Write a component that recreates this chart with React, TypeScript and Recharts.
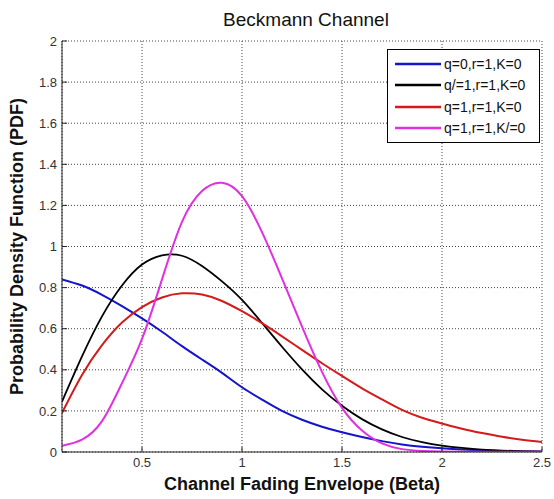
import React from 'react';
import { LineChart, Line, XAxis, YAxis, CartesianGrid, Legend, Label } from 'recharts';

const betaValues = [0.1, 0.2, 0.3, 0.4, 0.5, 0.6, 0.7, 0.8, 0.9, 1.0, 1.1, 1.2, 1.3, 1.4, 1.5, 1.6, 1.7, 1.8, 1.9, 2.0, 2.1, 2.2, 2.3, 2.4, 2.5];
const pdfQ0 = [0.84, 0.81, 0.765, 0.71, 0.65, 0.585, 0.515, 0.45, 0.385, 0.315, 0.255, 0.2, 0.157, 0.123, 0.096, 0.073, 0.053, 0.037, 0.026, 0.018, 0.012, 0.008, 0.005, 0.003, 0.002];
const pdfQne1 = [0.245, 0.465, 0.66, 0.81, 0.912, 0.957, 0.955, 0.905, 0.83, 0.74, 0.628, 0.512, 0.402, 0.305, 0.225, 0.16, 0.11, 0.073, 0.048, 0.031, 0.02, 0.012, 0.007, 0.004, 0.002];
const pdfQ1 = [0.19, 0.375, 0.52, 0.63, 0.705, 0.752, 0.772, 0.766, 0.735, 0.685, 0.627, 0.563, 0.497, 0.432, 0.37, 0.31, 0.256, 0.205, 0.167, 0.139, 0.113, 0.092, 0.074, 0.06, 0.049];
const pdfKne0 = [0.03, 0.06, 0.15, 0.335, 0.55, 0.84, 1.12, 1.27, 1.31, 1.245, 1.07, 0.845, 0.61, 0.39, 0.215, 0.105, 0.042, 0.014, 0.005, 0.002, 0.001, 0.001, 0.001, 0.001, 0.001];

const seriesNames = ['q=0,r=1,K=0', 'q/=1,r=1,K=0', 'q=1,r=1,K=0', 'q=1,r=1,K/=0'];
const xTicks = [0.5, 1, 1.5, 2, 2.5];
const yTicks = [0, 0.2, 0.4, 0.6, 0.8, 1, 1.2, 1.4, 1.6, 1.8, 2];

const titleText = 'Beckmann Channel';
const xLabelText = 'Channel Fading Envelope (Beta)';
const yLabelText = 'Probability Density Function (PDF)';

const data = betaValues.map((b, i) => ({
  beta: b,
  s0: pdfQ0[i],
  s1: pdfQne1[i],
  s2: pdfQ1[i],
  s3: pdfKne0[i],
}));

const FONT = '"Liberation Sans", Arial, Helvetica, sans-serif';
const COLORS = ['#1414c8', '#000000', '#d41a1a', '#e030e0'];
const AXIS_COLOR = '#222';

const fmtY = (v: number) => String(Number(v.toFixed(1)));
const blank = () => '';

const LegendBox = (props: any) => {
  const payload = [...(props.payload || [])].sort(
    (a: any, b: any) => seriesNames.indexOf(a.value) - seriesNames.indexOf(b.value)
  );
  return (
    <div
      style={{
        border: '1px solid #000',
        background: '#fff',
        boxSizing: 'border-box',
        width: 153,
        padding: '3px 4px 3px 7px',
        fontFamily: FONT,
        fontSize: 14,
        color: '#111',
      }}
    >
      {payload.map((p: any, i: number) => (
        <div key={i} style={{ display: 'flex', alignItems: 'center', height: 21.5 }}>
          <svg width={46} height={4} style={{ display: 'block' }}>
            <line x1={0} y1={2} x2={46} y2={2} stroke={p.color} strokeWidth={2.5} />
          </svg>
          <span style={{ marginLeft: 3, whiteSpace: 'nowrap' }}>{p.value}</span>
        </div>
      ))}
    </div>
  );
};

export default function App() {
  return (
    <div style={{ position: 'absolute', left: 0, top: 0, width: 554, height: 499, background: '#fff' }}>
      <div
        style={{
          position: 'absolute',
          left: 0,
          width: 612,
          top: 9,
          textAlign: 'center',
          fontFamily: FONT,
          fontSize: 19,
          color: '#111',
          lineHeight: '22px',
        }}
      >
        {titleText}
      </div>
      <LineChart
        width={554}
        height={499}
        data={data}
        margin={{ top: 41, right: 12, bottom: 0, left: 0 }}
      >
        <CartesianGrid stroke="#444" strokeDasharray="1 2" strokeWidth={1} />
        <XAxis
          dataKey="beta"
          type="number"
          domain={[0.1, 2.5]}
          ticks={xTicks}
          allowDataOverflow
          height={47}
          stroke={AXIS_COLOR}
          tickSize={-5}
          tickMargin={11}
          tick={{ fill: '#333', fontSize: 13, fontFamily: FONT }}
        >
          <Label
            value={xLabelText}
            position="insideBottom"
            offset={9}
            style={{ fontFamily: FONT, fontSize: 18, fontWeight: 'bold', fill: '#111' }}
          />
        </XAxis>
        <XAxis
          xAxisId="top"
          dataKey="beta"
          orientation="top"
          type="number"
          domain={[0.1, 2.5]}
          ticks={xTicks}
          allowDataOverflow
          height={0}
          stroke={AXIS_COLOR}
          tickSize={-5}
          tickFormatter={blank}
        />
        <YAxis
          type="number"
          domain={[0, 2]}
          ticks={yTicks}
          allowDataOverflow
          width={62}
          stroke={AXIS_COLOR}
          tickSize={-5}
          tickMargin={10}
          tickFormatter={fmtY}
          tick={{ fill: '#333', fontSize: 13, fontFamily: FONT }}
        >
          <Label
            value={yLabelText}
            angle={-90}
            position="insideLeft"
            offset={17}
            style={{ fontFamily: FONT, fontSize: 18, fontWeight: 'bold', fill: '#111', textAnchor: 'middle' }}
          />
        </YAxis>
        <YAxis
          yAxisId="right"
          orientation="right"
          type="number"
          domain={[0, 2]}
          ticks={yTicks}
          allowDataOverflow
          width={0}
          stroke={AXIS_COLOR}
          tickSize={-5}
          tickFormatter={blank}
        />
        <Line type="natural" dataKey="s0" name={seriesNames[0]} stroke={COLORS[0]} strokeWidth={2} dot={false} activeDot={false} isAnimationActive={false} />
        <Line type="natural" dataKey="s1" name={seriesNames[1]} stroke={COLORS[1]} strokeWidth={1.8} dot={false} activeDot={false} isAnimationActive={false} />
        <Line type="natural" dataKey="s2" name={seriesNames[2]} stroke={COLORS[2]} strokeWidth={2} dot={false} activeDot={false} isAnimationActive={false} />
        <Line type="natural" dataKey="s3" name={seriesNames[3]} stroke={COLORS[3]} strokeWidth={2} dot={false} activeDot={false} isAnimationActive={false} />
        <Legend
          layout="vertical"
          align="center"
          verticalAlign="middle"
          wrapperStyle={{ position: 'absolute', left: 387, top: 49, width: 153 }}
          content={LegendBox}
        />
      </LineChart>
    </div>
  );
}
